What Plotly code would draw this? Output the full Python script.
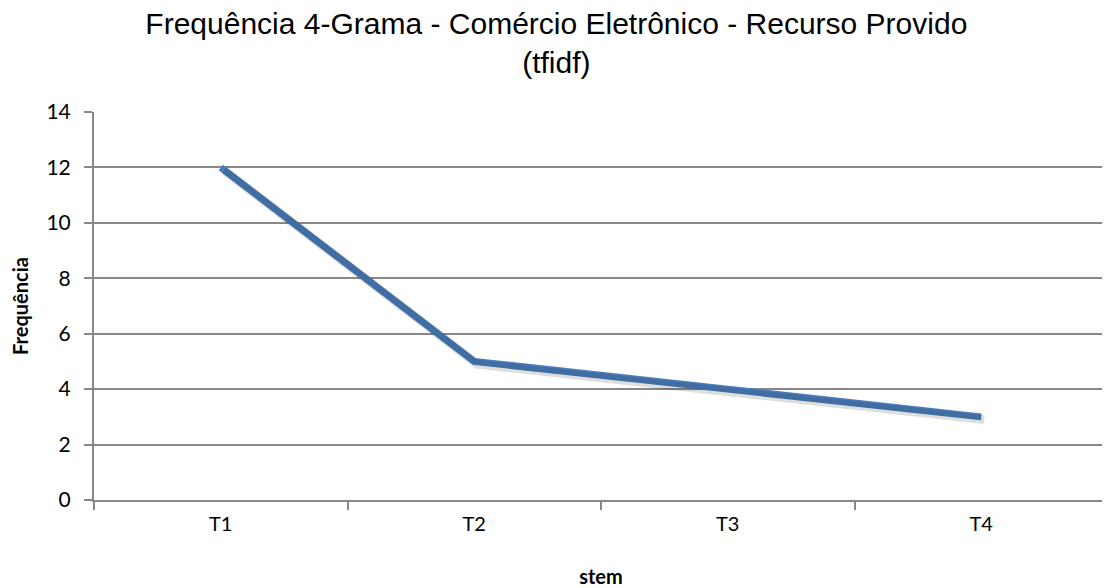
import plotly.graph_objects as go

categories = ["T1", "T2", "T3", "T4"]
values = [12, 5, 4, 3]
y_ticks = [0, 2, 4, 6, 8, 10, 12, 14]

FONT = "Lato, Carlito, Calibri, sans-serif"
GRID = "#888888"

fig = go.Figure()
# soft shadow under the line (same data, slightly offset axes)
fig.add_trace(go.Scatter(
    x=categories, y=values, mode="lines", xaxis="x2", yaxis="y2",
    line=dict(color="rgba(0,0,0,0.13)", width=9),
    hoverinfo="skip"
))
fig.add_trace(go.Scatter(
    x=categories, y=values, mode="lines",
    line=dict(color="#4a7ebb", width=7),
    hoverinfo="skip"
))

fig.update_layout(
    width=1110, height=588,
    margin=dict(l=86, r=10, t=104, b=96),
    paper_bgcolor="white", plot_bgcolor="white",
    showlegend=False,
    title=dict(
        text="Frequência 4-Grama - Comércio Eletrônico - Recurso Provido<br>(tfidf)",
        x=0.494, xanchor="center", xref="container",
        y=0.955, yanchor="top", yref="container",
        font=dict(family="Liberation Sans, Arial", size=30, color="black"),
    ),
    xaxis2=dict(type="category", range=[-0.5 - 0.012, 3.5 - 0.012], overlaying="x",
                visible=False),
    yaxis2=dict(range=[0.1, 14.1], overlaying="y", visible=False),
)

fig.layout.xaxis.update(
    type="category", range=[-0.5, 3.5],
    tickson="boundaries", ticks="outside", ticklen=8, tickcolor=GRID, tickwidth=2,
    showline=True, linecolor=GRID, linewidth=2,
    showgrid=False,
    ticklabelstandoff=5,
    tickfont=dict(family=FONT, size=20, color="black"),
    title=dict(text="<b>stem</b>", font=dict(family=FONT, size=20, color="black"), standoff=36),
)
fig.layout.yaxis.update(
    range=[0, 14], tickvals=y_ticks,
    ticks="outside", ticklen=8, tickcolor=GRID, tickwidth=2,
    showline=True, linecolor=GRID, linewidth=2,
    showgrid=True, gridcolor=GRID, gridwidth=2,
    zeroline=False,
    ticklabelstandoff=9,
    tickfont=dict(family=FONT, size=21, color="black"),
    title=dict(text="<b>Frequência</b>", font=dict(family=FONT, size=20, color="black"), standoff=15),
)

fig.write_html("out.html")
